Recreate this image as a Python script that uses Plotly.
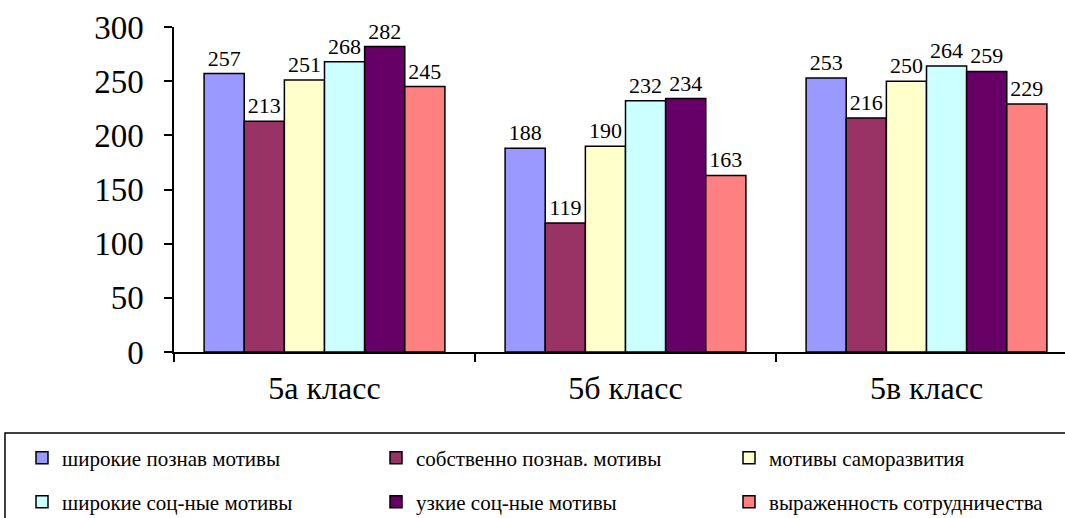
import plotly.graph_objects as go

categories = ["5а класс", "5б класс", "5в класс"]
series_names = [
    "широкие познав мотивы",
    "собственно познав. мотивы",
    "мотивы саморазвития",
    "широкие соц-ные мотивы",
    "узкие соц-ные мотивы",
    "выраженность сотрудничества",
]
values = [
    [257, 188, 253],
    [213, 119, 216],
    [251, 190, 250],
    [268, 232, 264],
    [282, 234, 259],
    [245, 163, 229],
]
colors = ["#9999FF", "#993366", "#FFFFCC", "#CCFFFF", "#660066", "#FF8080"]

FONT = "Liberation Serif"

W, H = 1065, 518
ml, mt, mb, mr = 174, 27, 166, 0
pw = W - ml - mr
ph = H - mt - mb

def px_x(x):
    return (x - ml) / pw

def px_y(y):
    return (H - mb - y) / ph

# legend entry anchor positions (pixels): left x, row centre y
leg_x = [22, 376, 729, 22, 376, 729]
leg_y = [458, 458, 458, 502, 502, 502]

fig = go.Figure()
legend_layout = {}
for i, (name, vals, col) in enumerate(zip(series_names, values, colors)):
    key = "legend" if i == 0 else f"legend{i + 1}"
    fig.add_trace(go.Bar(
        x=categories, y=vals, name=name,
        marker=dict(color=col, line=dict(color="black", width=1.5)),
        text=[str(v) for v in vals], textposition="outside",
        textfont=dict(family=FONT, size=22, color="black"),
        cliponaxis=False,
        legend=key,
    ))
    legend_layout[key] = dict(
        orientation="h", xanchor="left", yanchor="middle",
        xref="container", yref="container",
        x=leg_x[i] / W, y=1 - leg_y[i] / H,
        font=dict(family=FONT, size=21, color="black"),
        bgcolor="rgba(0,0,0,0)", borderwidth=0, itemwidth=30,
    )

fig.update_layout(
    width=W, height=H,
    margin=dict(l=ml, r=mr, t=mt, b=mb, autoexpand=False),
    paper_bgcolor="white", plot_bgcolor="white",
    barmode="group", bargap=0.2, bargroupgap=0,
    font=dict(family=FONT, color="black"),
    showlegend=True,
    shapes=[dict(type="rect", xref="paper", yref="paper",
                 x0=px_x(5), x1=px_x(1100), y0=px_y(433), y1=px_y(540),
                 line=dict(color="black", width=1.5), fillcolor="rgba(0,0,0,0)")],
    **legend_layout,
)

fig.update_xaxes(
    range=[-0.5, -0.5 + (W - ml) / 301.0],
    showline=True, linecolor="black", linewidth=1.5,
    ticks="outside", tickson="boundaries", ticklen=8, tickcolor="black", tickwidth=1.5,
    tickfont=dict(family=FONT, size=32, color="black"),
    ticklabelstandoff=7,
    showgrid=False, zeroline=False, automargin=False,
)
fig.update_yaxes(
    range=[0, 300], tickvals=[0, 50, 100, 150, 200, 250, 300],
    showline=True, linecolor="black", linewidth=1.5,
    ticks="outside", ticklen=8, tickcolor="black", tickwidth=1.5,
    tickfont=dict(family=FONT, size=33, color="black"),
    ticklabelstandoff=14,
    showgrid=False, zeroline=False, automargin=False,
)

fig.write_html("out.html", config={"displayModeBar": False},
               post_script="document.body.style.margin='0px';")
